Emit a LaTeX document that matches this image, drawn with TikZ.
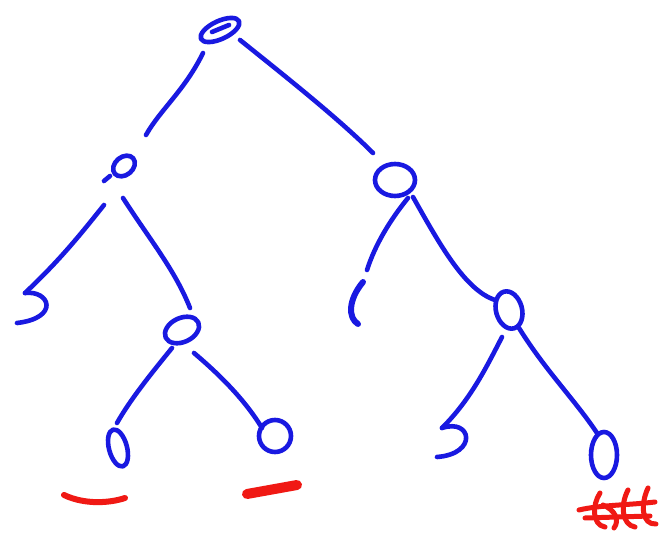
\documentclass[tikz,border=0pt]{standalone}
\begin{document}
\begin{tikzpicture}[x=1pt,y=-1pt,
  ink/.style={draw=inkblue,line width=4.6pt,line cap=round,line join=round},
  redink/.style={draw=inkred,line width=6pt,line cap=round,line join=round}]
\definecolor{inkblue}{RGB}{25,25,225}
\definecolor{inkred}{RGB}{240,25,20}
\useasboundingbox[fill=white] (0,0) rectangle (659,537);
% vertices
\draw[ink] (220,30) ellipse [x radius=21,y radius=9,rotate=25];
\draw[ink] (212,32) -- (229,25);
\draw[ink] (124,166) ellipse [x radius=12,y radius=9,rotate=40];
\draw[ink] (110,176) -- (104,181);
\draw[ink] (395,180) ellipse [x radius=20,y radius=16];
\draw[ink] (182,330) ellipse [x radius=18,y radius=12,rotate=25];
\draw[ink] (509,310) ellipse [x radius=13,y radius=19,rotate=15];
\draw[ink] (118,448) ellipse [x radius=9,y radius=19,rotate=15];
\draw[ink] (275,436) ellipse [x radius=16,y radius=16];
\draw[ink] (604,455) ellipse [x radius=13,y radius=23];
% leaf strokes
\coordinate (ll) at (25,293);
\draw[ink] (ll) .. controls (50,290) and (60,318) .. (17,323);
\coordinate (rl) at (363,282);
\draw[ink,line width=6pt] (rl) .. controls (348,300) and (348,318) .. (358,324);
\coordinate (rrl) at (442,428);
\draw[ink] (rrl) .. controls (472,418) and (478,454) .. (437,457);
% edges
\draw[ink] (203,53) .. controls (185,90) and (160,110) .. (146,135);
\draw[ink] (240,40) .. controls (290,80) and (340,120) .. (373,153);
\draw[ink] (104,205) .. controls (80,235) and (60,260) .. (ll);
\draw[ink] (123,198) .. controls (150,240) and (175,270) .. (190,308);
\draw[ink] (172,348) .. controls (150,375) and (130,400) .. (117,423);
\draw[ink] (194,353) .. controls (220,375) and (245,400) .. (262,428);
\draw[ink] (408,198) .. controls (390,220) and (375,245) .. (367,270);
\draw[ink] (413,197) .. controls (440,245) and (465,290) .. (495,300);
\draw[ink] (502,337) .. controls (485,370) and (470,400) .. (rrl);
\draw[ink] (519,328) .. controls (545,370) and (575,400) .. (597,433);
% red marks
\draw[redink] (64,495) .. controls (85,505) and (110,503) .. (125,498);
\draw[redink,line width=10pt] (247,494) -- (297,485);
\draw[redink,line width=5pt] (579,510) .. controls (600,505) and (630,505) .. (655,502);
\draw[redink,line width=5pt] (600,493) .. controls (592,505) and (592,525) .. (605,527);
\draw[redink,line width=5pt] (603,505) .. controls (615,510) and (620,520) .. (614,528);
\draw[redink,line width=5pt] (628,490) .. controls (620,505) and (622,525) .. (635,527);
\draw[redink,line width=5pt] (648,488) .. controls (640,505) and (642,525) .. (656,524);
\draw[redink,line width=5pt] (585,518) -- (650,516);
\end{tikzpicture}
\end{document}
